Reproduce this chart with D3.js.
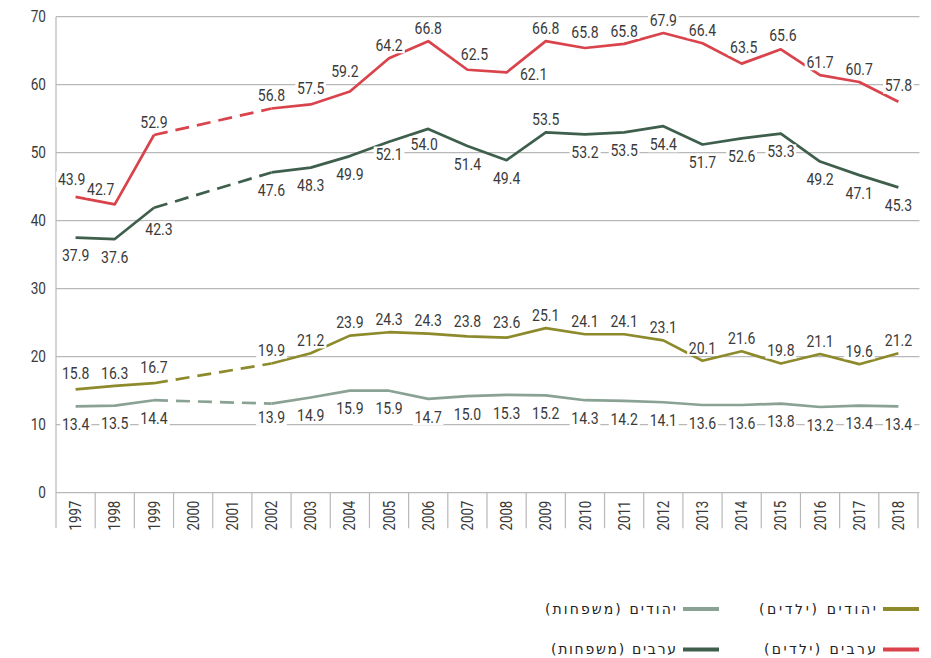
<!DOCTYPE html>
<html><head><meta charset="utf-8">
<script src="https://cdn.jsdelivr.net/npm/d3@7"></script>
<style>
body{margin:0;background:#fff;}
svg{display:block;}
.num{font-family:Roboto,"Liberation Sans",sans-serif;font-weight:400;}
</style></head>
<body>
<svg id="c" width="931" height="658"></svg>
<script>
const years = ["1997","1998","1999","2000","2001","2002","2003","2004","2005","2006","2007","2008","2009","2010","2011","2012","2013","2014","2015","2016","2017","2018"];
const yTicks = [0,10,20,30,40,50,60,70];

// plotted values (as drawn)
const arabsChildren   = [43.5,42.4,52.6,null,null,56.5,57.1,59.0,63.9,66.4,62.2,61.8,66.4,65.4,66.0,67.6,66.1,63.1,65.2,61.4,60.4,57.5];
const arabsFamilies   = [37.5,37.3,41.9,null,null,47.1,47.8,49.5,51.6,53.5,51.0,48.9,53.0,52.7,53.0,53.9,51.2,52.1,52.8,48.7,46.7,44.9];
const jewsChildren    = [15.2,15.7,16.1,null,null,19.0,20.5,23.1,23.6,23.4,23.0,22.8,24.2,23.3,23.3,22.4,19.4,20.8,19.0,20.4,18.9,20.5];
const jewsFamilies    = [12.7,12.8,13.6,null,null,13.1,14.0,15.0,15.0,13.8,14.2,14.4,14.3,13.6,13.5,13.3,12.9,12.9,13.1,12.6,12.8,12.7];

// data label texts
const arabsChildrenLbl = ["43.9","42.7","52.9",null,null,"56.8","57.5","59.2","64.2","66.8","62.5","62.1","66.8","65.8","65.8","67.9","66.4","63.5","65.6","61.7","60.7","57.8"];
const arabsFamiliesLbl = ["37.9","37.6","42.3",null,null,"47.6","48.3","49.9","52.1","54.0","51.4","49.4","53.5","53.2","53.5","54.4","51.7","52.6","53.3","49.2","47.1","45.3"];
const jewsChildrenLbl  = ["15.8","16.3","16.7",null,null,"19.9","21.2","23.9","24.3","24.3","23.8","23.6","25.1","24.1","24.1","23.1","20.1","21.6","19.8","21.1","19.6","21.2"];
const jewsFamiliesLbl  = ["13.4","13.5","14.4",null,null,"13.9","14.9","15.9","15.9","14.7","15.0","15.3","15.2","14.3","14.2","14.1","13.6","13.6","13.8","13.2","13.4","13.4"];

const seriesNames = ["יהודים (ילדים)","יהודים (משפחות)","ערבים (ילדים)","ערבים (משפחות)"];
const colors = ["#8d8a2c","#8aa294","#d9434b","#3f5f4d"];

const series = [
  {name:seriesNames[0], vals:jewsChildren,  lbl:jewsChildrenLbl,  color:colors[0], pos:"above"},
  {name:seriesNames[1], vals:jewsFamilies,  lbl:jewsFamiliesLbl,  color:colors[1], pos:"below"},
  {name:seriesNames[2], vals:arabsChildren, lbl:arabsChildrenLbl, color:colors[2], pos:"above"},
  {name:seriesNames[3], vals:arabsFamilies, lbl:arabsFamiliesLbl, color:colors[3], pos:"below"}
];
// label placement exceptions [series index|year] -> [dx, dy of label centre from point]
const labelTweaks = {
  "2|1998":[-14,-15], "2|2008":[27,2], "2|2007":[7,-16], "2|2004":[-5,-20], "2|1997":[-4,-18],
  "2|2003":[0,-16], "2|2010":[0,-16], "2|2014":[2,-16], "2|2018":[0,-16], "2|2015":[2,-14],
  "3|2009":[0,-13], "3|1999":[5,21], "3|2005":[0,12], "3|2006":[-4,15],
  "0|1997":[0,-16], "0|1999":[0,-16], "0|2007":[0,-15], "0|2008":[0,-15],
  "1|2002":[0,14]
};

const SX = 0.85; // horizontal compression of the numeric font
const svg = d3.select("#c");
const L = 56, R = 918, T = 16.7, B = 492.7;
const x = d3.scaleBand().domain(years).range([L,R]);
const y = d3.scaleLinear().domain([0,70]).range([B,T]);
const xc = d => x(d) + x.bandwidth()/2;

// grid
svg.append("g").selectAll("line").data(yTicks).join("line")
  .attr("x1",L).attr("x2",R+1.5).attr("y1",d=>y(d)).attr("y2",d=>y(d))
  .attr("stroke","#b8b8b8").attr("stroke-width",1.2);
// y axis line
svg.append("line").attr("x1",L).attr("x2",L).attr("y1",T).attr("y2",B)
  .attr("stroke","#b8b8b8").attr("stroke-width",1.2);
// y labels
svg.append("g").selectAll("text").data(yTicks).join("text").attr("class","num")
  .attr("transform",d=>`translate(46,${y(d)}) scale(${SX},1)`)
  .attr("dy","0.35em").attr("text-anchor","end")
  .attr("font-size",16).attr("fill","#3a3a3a").text(d=>d);
// x dividers
const edges = years.map(d=>x(d)).concat([R]);
svg.append("g").selectAll("line").data(edges).join("line")
  .attr("x1",d=>d).attr("x2",d=>d).attr("y1",B).attr("y2",B+35.5)
  .attr("stroke","#b8b8b8").attr("stroke-width",1.2);
// x labels
svg.append("g").selectAll("text").data(years).join("text").attr("class","num")
  .attr("transform",d=>`translate(${xc(d)},${B+8}) rotate(-90) scale(0.83,1)`)
  .attr("text-anchor","end").attr("dy","0.35em")
  .attr("font-size",16).attr("fill","#3a3a3a").text(d=>d);

// lines
const line = d3.line().defined(d=>d.v!=null).x(d=>xc(d.year)).y(d=>y(d.v));
const gLines = svg.append("g");
series.forEach(s=>{
  const pts = years.map((yr,i)=>({year:yr, v:s.vals[i]}));
  gLines.append("path").datum(pts).attr("d",line).attr("fill","none")
    .attr("stroke",s.color).attr("stroke-width",2.7).attr("stroke-linejoin","round");
  const valid = pts.filter(p=>p.v!=null);
  for(let i=1;i<valid.length;i++){
    const a = years.indexOf(valid[i-1].year), b = years.indexOf(valid[i].year);
    if(b-a>1){
      gLines.append("path").datum([valid[i-1],valid[i]])
        .attr("d",d3.line().x(d=>xc(d.year)).y(d=>y(d.v)))
        .attr("fill","none").attr("stroke",s.color).attr("stroke-width",2.7)
        .attr("stroke-dasharray","14,8");
    }
  }
});

// labels
const gLbl = svg.append("g");
series.forEach((s,si)=>{
  years.forEach((yr,i)=>{
    if(s.lbl[i]==null) return;
    let dx=0, dy = s.pos==="above" ? -13 : 18;
    const tw = labelTweaks[si+"|"+yr];
    if(tw){dx=tw[0]; dy=tw[1];}
    const cx = xc(yr)+dx, cy = y(s.vals[i])+dy;
    const g = gLbl.append("g").attr("transform",`translate(${cx},${cy}) scale(${SX},1)`);
    const rect = g.append("rect").attr("fill","#fff");
    const t = g.append("text").attr("class","num")
      .attr("dy","0.35em").attr("text-anchor","middle")
      .attr("font-size",16.5).attr("fill","#3a3a3a").text(s.lbl[i]);
    const bb = t.node().getBBox();
    rect.attr("x",bb.x-2).attr("y",bb.y+2).attr("width",bb.width+4).attr("height",bb.height-4);
  });
});

// legend
const legendOrder = [[0,1],[2,3]];
const rowY = [609,649.5];
const colRight = [919,719];
const textW = [[117,131],[112,125]];
legendOrder.forEach((row,ri)=>{
  row.forEach((si,ci)=>{
    const s = series[si];
    const xr = colRight[ci];
    svg.append("line").attr("x1",xr-36).attr("x2",xr).attr("y1",rowY[ri]).attr("y2",rowY[ri])
      .attr("stroke",s.color).attr("stroke-width",4);
    svg.append("text").attr("x",xr-43).attr("y",rowY[ri]).attr("dy","0.35em")
      .attr("direction","rtl").attr("text-anchor","start")
      .attr("textLength",textW[ri][ci]).attr("lengthAdjust","spacing")
      .attr("font-family","'DejaVu Sans', sans-serif").attr("font-size",14)
      .attr("fill","#222").text(s.name);
  });
});
</script>
</body></html>
